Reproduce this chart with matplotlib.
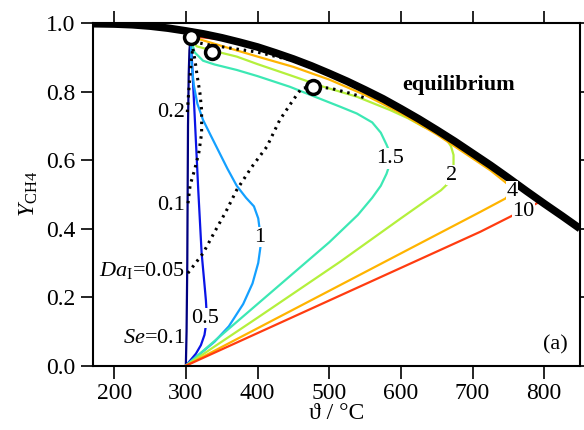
import numpy as np
import matplotlib.pyplot as plt

plt.rcParams['font.family'] = ['Liberation Serif', 'DejaVu Serif']
plt.rcParams['mathtext.fontset'] = 'custom'
plt.rcParams['mathtext.rm'] = 'Liberation Serif'
plt.rcParams['mathtext.it'] = 'Liberation Serif:italic'
plt.rcParams['font.size'] = 16

# equilibrium yield
T_eq = [170, 200, 225, 250, 275, 300, 325, 350, 375, 400, 425, 450, 475, 500, 525, 550,
        575, 600, 625, 650, 675, 700, 725, 750, 775, 800, 825, 850]
Y_eq = [0.998, 0.997, 0.995, 0.991, 0.985, 0.977, 0.968, 0.957, 0.944, 0.93, 0.913, 0.895,
        0.875, 0.853, 0.83, 0.805, 0.779, 0.75, 0.72, 0.688, 0.655, 0.62, 0.585, 0.548,
        0.51, 0.473, 0.437, 0.40]

# reactor curves for each Semenov number
T_se01 = [300, 301, 302, 302.5, 303, 304, 305, 306.7]
Y_se01 = [0, 0.1, 0.3, 0.5, 0.7, 0.85, 0.92, 0.96]
T_se05 = [300, 306, 314, 321, 326, 328.5, 329, 328, 326.7, 322, 317.3, 313, 309, 306.7]
Y_se05 = [0, 0.015, 0.035, 0.06, 0.09, 0.125, 0.154, 0.19, 0.221, 0.329, 0.513, 0.7, 0.87, 0.96]
T_se1 = [300, 320, 340, 360, 380, 393, 401, 404, 403.5, 401, 395, 384, 371, 358, 346, 334,
         324, 316, 311, 308, 306.7]
Y_se1 = [0, 0.035, 0.07, 0.115, 0.18, 0.24, 0.3, 0.345, 0.39, 0.43, 0.465, 0.49, 0.525,
         0.575, 0.625, 0.675, 0.717, 0.765, 0.82, 0.885, 0.96]
T_se15 = [300, 400, 500, 540, 560, 572, 580, 584, 585, 584, 580, 572, 560, 538.5, 515, 492,
          445, 400, 371, 340, 324, 312, 306.7]
Y_se15 = [0, 0.18, 0.36, 0.44, 0.49, 0.525, 0.56, 0.585, 0.605, 0.625, 0.645, 0.68, 0.71,
          0.736, 0.756, 0.775, 0.814, 0.845, 0.863, 0.879, 0.89, 0.915, 0.96]
T_se2 = [300, 400, 515, 600, 636, 656, 666, 671, 673.5, 673.5, 670, 664, 652, 631.6, 610,
         585, 538.5, 492, 445, 400, 371, 340, 315, 306.7]
Y_se2 = [0, 0.14, 0.303, 0.43, 0.483, 0.512, 0.532, 0.556, 0.585, 0.615, 0.64, 0.659, 0.68,
         0.697, 0.722, 0.746, 0.785, 0.814, 0.848, 0.88, 0.902, 0.918, 0.932, 0.96]
T_se4 = [300, 711, 746, 755, 752, 725, 700, 650, 600, 550, 500, 450, 400, 350, 320, 306.7]
Y_se4 = [0, 0.449, 0.488, 0.508, 0.525, 0.57, 0.605, 0.675, 0.737, 0.79, 0.835, 0.872,
         0.902, 0.933, 0.952, 0.96]
T_se10 = [300, 711, 748, 785, 794.5, 775, 750, 700, 650, 600, 550, 500, 450, 400, 350, 306.7]
Y_se10 = [0, 0.391, 0.43, 0.469, 0.479, 0.508, 0.545, 0.618, 0.685, 0.747, 0.801, 0.849,
          0.891, 0.926, 0.952, 0.962]

# lines of constant Damkoehler number
T_da005 = [302.8, 324, 340, 356, 371, 392, 413, 431, 449.6, 461.7, 477.7, 501, 529, 552]
Y_da005 = [0.27, 0.328, 0.39, 0.45, 0.513, 0.58, 0.639, 0.717, 0.775, 0.81, 0.813, 0.81,
           0.795, 0.78]
T_da01 = [303, 306, 312, 318, 322, 322, 319.7, 316, 312.7, 306.7]
Y_da01 = [0.474, 0.527, 0.57, 0.62, 0.678, 0.746, 0.795, 0.843, 0.892, 0.96]
T_da02 = [302, 304, 306.5, 308, 310]
Y_da02 = [0.74, 0.8, 0.86, 0.9, 0.93]
T_da_top = [310, 336, 400, 450, 500, 550, 600]
Y_da_top = [0.945, 0.935, 0.915, 0.89, 0.85, 0.8, 0.745]

# marked operating points
T_pts = [306.7, 336, 477.7]
Y_pts = [0.96, 0.916, 0.813]

fig = plt.figure(figsize=(5.84, 4.30), dpi=100)
ax = fig.add_axes([0.1587, 0.1495, 0.8345, 0.797])

curves = [
    (T_se01, Y_se01, '#000080'),
    (T_se05, Y_se05, '#0a14e6'),
    (T_se1, Y_se1, '#14a0ff'),
    (T_se15, Y_se15, '#3ce8b4'),
    (T_se2, Y_se2, '#b4f03c'),
    (T_se4, Y_se4, '#ffb400'),
    (T_se10, Y_se10, '#ff3c10'),
]
for T, Y, c in curves:
    ax.plot(T, Y, color=c, lw=1.6, zorder=2)

ax.plot(T_eq, Y_eq, color='black', lw=5.5, solid_capstyle='butt', zorder=3)

for T, Y in [(T_da005, Y_da005), (T_da01, Y_da01), (T_da02, Y_da02), (T_da_top, Y_da_top)]:
    ax.plot(T, Y, color='black', lw=2.2, linestyle=(0, (0.8, 1.6)), zorder=4)

ax.plot(T_pts, Y_pts, 'o', ms=10, mfc='white', mec='black', mew=2.5, zorder=6)

box = dict(facecolor='white', edgecolor='none', pad=0.5)
for s, x, y in [('0.5', 327, 0.139), ('1', 403.5, 0.375), ('1.5', 585, 0.605),
                ('2', 671, 0.556), ('4', 755, 0.508), ('10', 771, 0.449)]:
    ax.text(x, y, s, ha='center', va='center', bbox=box, zorder=5)

ax.text(299, 0.08, r'$Se$=0.1', ha='right', va='center', zorder=5)
ax.text(299, 0.279, r'$Da_{\rm I}$=0.05', ha='right', va='center', zorder=5)
ax.text(299, 0.468, '0.1', ha='right', va='center', zorder=5)
ax.text(299, 0.74, '0.2', ha='right', va='center', zorder=5)
ax.text(680, 0.819, 'equilibrium', ha='center', va='center', fontweight='bold', zorder=5)
ax.text(815, 0.06, '(a)', ha='center', va='center', zorder=5)

ax.set_xlim(170, 850)
ax.set_ylim(0, 1)
ax.set_xticks([200, 300, 400, 500, 600, 700, 800])
ax.set_yticks([0.0, 0.2, 0.4, 0.6, 0.8, 1.0])
ax.tick_params(direction='out', length=9, width=1.2, top=True, right=True, labelsize=17)
for sp in ax.spines.values():
    sp.set_linewidth(1.5)
ax.set_xlabel('ϑ / °C', fontsize=17, labelpad=-1)
ax.set_ylabel(r'$Y_{\rm CH4}$', fontsize=17)

fig.savefig('out.png', dpi=100)
